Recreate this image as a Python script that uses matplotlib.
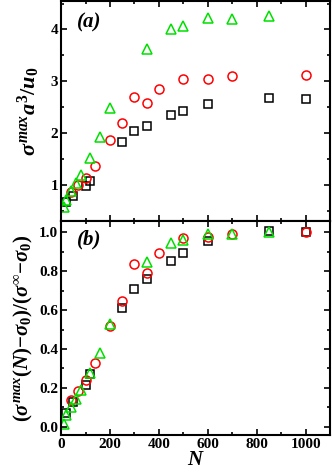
import numpy as np
import matplotlib.pyplot as plt
from matplotlib.ticker import MultipleLocator

plt.rcParams['font.family'] = 'Liberation Serif'
plt.rcParams['font.weight'] = 'bold'
plt.rcParams['mathtext.fontset'] = 'custom'
plt.rcParams['mathtext.rm'] = 'Liberation Serif:bold'
plt.rcParams['mathtext.it'] = 'Liberation Serif:italic:bold'
plt.rcParams['mathtext.bf'] = 'Liberation Serif:bold'

# Panel (a): sigma_max a^3 / u0
N_sq = [20, 50, 100, 120, 250, 300, 350, 450, 500, 600, 850, 1000]
a_sq = [0.67, 0.78, 0.98, 1.07, 1.82, 2.03, 2.13, 2.34, 2.43, 2.55, 2.67, 2.66]

N_ci = [40, 70, 100, 140, 200, 250, 300, 350, 400, 500, 600, 700, 1000]
a_ci = [0.86, 1.00, 1.12, 1.36, 1.87, 2.19, 2.69, 2.57, 2.84, 3.04, 3.05, 3.09, 3.12]

N_tr = [10, 20, 40, 60, 80, 120, 160, 200, 350, 450, 500, 600, 700, 850]
a_tr = [0.57, 0.71, 0.88, 1.03, 1.19, 1.51, 1.92, 2.48, 3.62, 4.01, 4.07, 4.22, 4.20, 4.26]

# Panel (b): normalised
b_sq = [0.073, 0.125, 0.216, 0.27, 0.61, 0.71, 0.76, 0.855, 0.895, 0.953, 1.005, 1.0]
b_ci = [0.137, 0.185, 0.24, 0.327, 0.52, 0.645, 0.835, 0.79, 0.895, 0.97, 0.978, 0.99, 1.0]
b_tr = [0.012, 0.06, 0.10, 0.14, 0.19, 0.275, 0.38, 0.53, 0.848, 0.943, 0.96, 0.99, 0.99, 1.0]

fig = plt.figure(figsize=(3.32, 4.76), dpi=100)
ax1 = fig.add_axes([0.184, 0.536, 0.81, 0.462])
ax2 = fig.add_axes([0.184, 0.086, 0.81, 0.450])

ms = 6.5
mew = 1.1
for ax, ys in [(ax1, (a_sq, a_ci, a_tr)), (ax2, (b_sq, b_ci, b_tr))]:
    ax.plot(N_sq, ys[0], 's', ms=ms - 0.8, mfc='none', mec='black', mew=mew)
    ax.plot(N_ci, ys[1], 'o', ms=ms, mfc='none', mec='red', mew=mew)
    ax.plot(N_tr, ys[2], '^', ms=ms + 0.5, mfc='none', mec='#00e000', mew=mew)
    ax.set_xlim(0, 1100)
    ax.xaxis.set_major_locator(MultipleLocator(200))
    ax.xaxis.set_minor_locator(MultipleLocator(100))
    ax.tick_params(which='both', direction='in', top=True, right=True,
                   width=1.2, labelsize=11, pad=2)
    ax.tick_params(which='major', length=4)
    ax.tick_params(which='minor', length=2.5)
    for s in ax.spines.values():
        s.set_linewidth(1.5)

ax1.set_ylim(0.3, 4.55)
ax1.yaxis.set_major_locator(MultipleLocator(1))
ax1.yaxis.set_minor_locator(MultipleLocator(0.5))
ax1.tick_params(labelbottom=False)
ax1.set_ylabel(r'$\sigma^{max}\mathit{a}^{3}/\mathit{u}_{0}$', fontsize=16, labelpad=6)
ax1.text(0.06, 0.9, '(a)', transform=ax1.transAxes, fontsize=15,
         style='italic', weight='bold', va='center')

ax2.set_ylim(-0.043, 1.059)
ax2.yaxis.set_major_locator(MultipleLocator(0.2))
ax2.yaxis.set_minor_locator(MultipleLocator(0.1))
ax2.yaxis.set_major_formatter(plt.FormatStrFormatter('%.1f'))
ax2.set_ylabel(r'$(\sigma^{max}(N)\mathrm{-}\sigma_0)/(\sigma^{\infty}\mathrm{-}\sigma_0)$',
               fontsize=15, labelpad=3)
ax2.set_xlabel(r'$\mathit{N}$', fontsize=15, labelpad=0)
ax2.text(0.06, 0.915, '(b)', transform=ax2.transAxes, fontsize=15,
         style='italic', weight='bold', va='center')

fig.savefig('out.png', dpi=100)
